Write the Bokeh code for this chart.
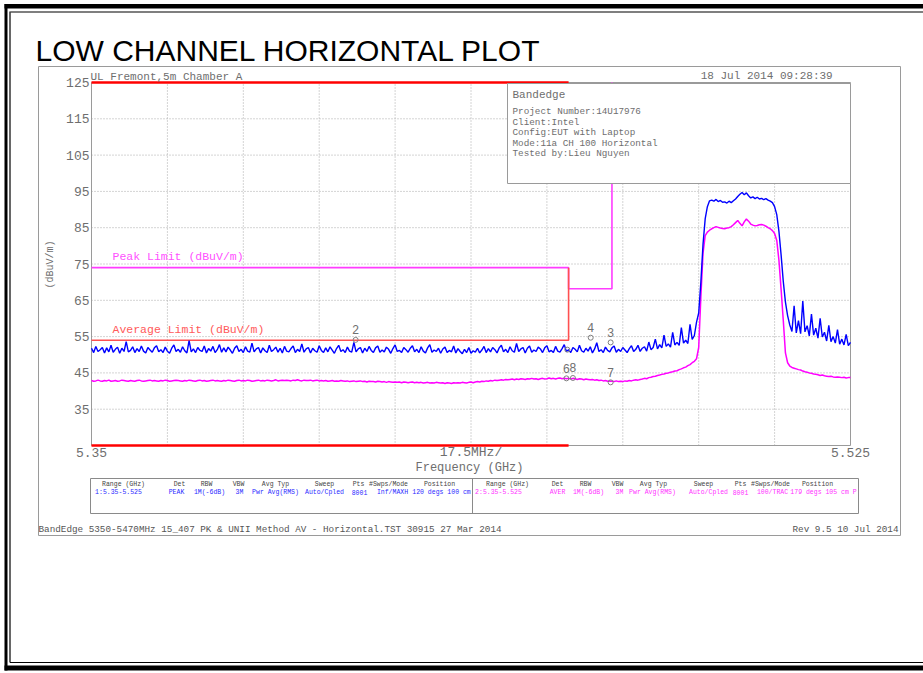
import math
import numpy as np
from bokeh.plotting import figure
from bokeh.models import Range1d
from bokeh.core.properties import value
from bokeh.embed import file_html
from bokeh.resources import INLINE

# ---------------- data ----------------
title_text = "LOW CHANNEL HORIZONTAL PLOT"
header_left = "UL Fremont,5m Chamber A"
header_right = "18 Jul 2014    09:28:39"
info_title = "Bandedge"
info_lines = ["Project Number:14U17976", "Client:Intel", "Config:EUT with Laptop",
              "Mode:11a CH 100 Horizontal", "Tested by:Lieu Nguyen"]
footer_left = "BandEdge 5350-5470MHz 15_407 PK & UNII Method AV - Horizontal.TST 30915 27 Mar 2014"
footer_right = "Rev 9.5 10 Jul 2014"
x_axis_title = "Frequency (GHz)"
y_axis_title = "(dBuV/m)"
peak_limit_name = "Peak Limit (dBuV/m)"
avg_limit_name = "Average Limit (dBuV/m)"

freq_start, freq_stop = 5.35, 5.525
level_bottom, level_top = 25, 125
y_ticks = [125, 115, 105, 95, 85, 75, 65, 55, 45, 35]
y_tick_labels = ["125", "115", "105", "95", "85", "75", "65", "55", "45", "35"]
x_tick_values = [5.35, 5.4375, 5.525]
x_tick_labels = ["5.35", "17.5MHz/", "5.525"]
x_grid = [5.3675, 5.385, 5.4025, 5.42, 5.4375, 5.455, 5.4725, 5.49, 5.5075]
y_grid = [35, 45, 55, 65, 75, 85, 95, 105, 115]

band_edge_f = [5.35, 5.46]
peak_limit_f = [5.35, 5.46, 5.46, 5.47, 5.47]
peak_limit_db = [74, 74, 68.2, 68.2, 125]
avg_limit_f = [5.35, 5.46, 5.46]
avg_limit_db = [54, 54, 74]

peak_trace = [
    51.8, 50.6, 52.3, 50.9, 51.4, 52.0, 50.5, 51.9, 50.8, 52.6,
    50.7, 51.5, 52.1, 50.4, 51.8, 50.9, 53.6, 50.8, 51.2, 52.2,
    50.6, 51.7, 50.9, 52.4, 51.0, 50.5, 52.0, 51.3, 50.7, 51.9,
    52.5, 50.8, 51.4, 50.6, 52.1, 51.0, 50.4, 51.8, 52.7, 50.9,
    51.5, 50.7, 52.2, 51.1, 50.5, 53.9, 50.8, 51.6, 50.6, 52.0,
    51.2, 50.9, 52.4, 50.5, 51.7, 51.0, 52.3, 50.6, 51.4, 52.8,
    50.7, 51.9, 50.8, 52.1, 51.3, 50.4, 51.8, 52.5, 50.9, 51.5,
    50.6, 52.2, 51.0, 50.7, 53.2, 50.8, 51.6, 52.0, 50.5, 51.9,
    51.1, 50.6, 52.6, 50.9, 51.4, 52.1, 50.7, 51.8, 50.5, 52.3,
    51.0, 50.8, 51.7, 52.4, 50.6, 51.5, 50.9, 53.0, 50.7, 51.6,
    52.0, 50.5, 51.8, 51.1, 50.7, 52.5, 51.2, 50.6, 51.9, 50.8,
    52.2, 51.3, 50.4, 51.7, 52.6, 50.9, 51.4, 50.6, 52.1, 51.0,
    50.7, 53.4, 50.8, 51.6, 52.0, 50.5, 51.8, 50.9, 52.3, 51.2,
    50.6, 51.9, 52.4, 50.7, 51.3, 50.8, 52.1, 51.5, 50.4, 51.7,
    52.7, 50.9, 51.2, 50.6, 52.0, 51.4, 50.7, 51.8, 52.5, 50.8,
    51.5, 50.6, 52.2, 51.0, 50.5, 51.9, 52.8, 50.7, 51.3, 50.9,
    51.8, 50.4, 51.6, 52.1, 50.6, 51.2, 50.8, 52.4, 50.5, 51.7,
    50.9, 50.3, 51.5, 50.6, 52.0, 50.4, 51.1, 50.7, 51.8, 50.5,
    51.3, 52.3, 50.6, 51.7, 50.8, 52.0, 51.4, 50.5, 51.9, 52.6,
    50.8, 51.5, 50.6, 52.2, 51.1, 50.7, 53.1, 50.9, 51.6, 52.0,
    50.5, 51.8, 52.4, 50.7, 51.3, 50.9, 52.1, 51.6, 50.6, 51.9,
    52.5, 50.8, 51.2, 50.6, 52.3, 51.0, 50.7, 51.7, 52.8, 50.9,
    51.4, 50.6, 52.0, 51.5, 50.8, 52.6, 51.1, 50.7, 51.8, 51.0,
    52.2, 50.5, 51.6, 53.3, 50.9, 51.4, 50.6, 52.1, 51.2, 50.8,
    51.9, 52.4, 50.7, 51.5, 50.9, 52.0, 51.3, 50.6, 51.7, 52.5,
    50.9,
    51.5, 52.6, 50.9, 51.8, 52.2, 51.0, 53.5, 51.4, 52.0, 54.3,
    51.6, 52.8, 51.9, 55.4, 52.3, 53.0, 52.1, 56.2, 52.7, 53.4,
    52.6, 57.5, 53.2, 54.0, 53.1, 58.4, 54.2, 55.3, 59.0,
    61.5, 70.0, 80.5, 87.5, 90.8, 92.4,
    92.6, 92.3, 92.8, 92.2, 92.5, 92.0, 92.1, 91.8, 92.3, 91.9,
    92.4, 92.9, 93.6, 94.2, 94.7, 94.1, 94.6, 93.8, 93.2, 93.5,
    93.0, 93.4, 92.9, 93.1, 92.7, 93.0, 92.6,
    92.3, 91.9, 90.8, 88.6, 84.0, 77.5, 70.2, 64.5, 60.8,
    58.2, 56.4, 63.5, 56.0, 59.4, 55.8, 64.8, 56.3, 58.0, 55.2,
    61.2, 55.4, 57.3, 54.6, 60.0, 54.9, 56.2, 53.8, 58.1, 53.6,
    55.0, 53.2, 56.9, 52.9, 54.3, 52.7, 55.6, 52.5, 53.4,
]

avg_trace = [
    42.9, 42.7, 42.8, 43.0, 42.8, 42.7, 42.9, 42.8, 43.0, 42.7,
    42.8, 42.9, 42.7, 42.8, 43.0, 42.9, 42.8, 42.7, 42.9, 42.8,
    42.7, 42.9, 43.0, 42.8, 42.7, 42.8, 42.9, 43.0, 42.8, 42.9,
    42.8, 42.7, 42.9, 42.8, 43.0, 42.9, 42.7, 42.8, 42.9, 43.0,
    42.9, 42.8, 42.7, 42.9, 42.8, 43.0, 42.9, 42.8, 42.7, 42.9,
    43.0, 42.8, 42.9, 42.7, 42.8, 42.9, 43.0, 42.8, 42.9, 42.8,
    42.7, 42.9, 42.8, 43.0, 42.9, 42.8, 42.7, 42.9, 43.0, 42.8,
    42.9, 42.8, 43.0, 42.9, 42.7, 42.8, 42.9, 43.0, 42.8, 42.9,
    42.8, 43.0, 42.9, 42.8, 42.9, 43.1, 42.8, 42.9, 43.0, 42.9,
    43.0, 42.9, 42.8, 43.0, 42.9, 43.1, 42.9, 42.8, 43.0, 42.9,
    42.9, 43.0, 42.8, 42.9, 43.0, 42.8, 42.9, 42.8, 42.9, 42.7,
    42.8, 42.9, 42.7, 42.8, 42.7, 42.9, 42.8, 42.7, 42.8, 42.6,
    42.7, 42.8, 42.6, 42.7, 42.8, 42.6, 42.7, 42.5, 42.7, 42.6,
    42.6, 42.5, 42.7, 42.6, 42.5, 42.6, 42.4, 42.6, 42.5, 42.4,
    42.5, 42.4, 42.5, 42.3, 42.5, 42.4, 42.3, 42.4, 42.5, 42.3,
    42.4, 42.3, 42.4, 42.2, 42.3, 42.4, 42.2, 42.3, 42.2, 42.4,
    42.3, 42.2, 42.3, 42.1, 42.3, 42.2, 42.1, 42.3, 42.2, 42.3,
    42.2, 42.4, 42.3, 42.2, 42.4, 42.5, 42.3, 42.5, 42.6, 42.5,
    42.7, 42.6, 42.8, 42.7, 42.9, 42.8, 43.0, 42.9, 43.0, 43.1,
    43.0, 43.2, 43.1, 43.2, 43.3, 43.1, 43.3, 43.2, 43.4, 43.3,
    43.2, 43.4, 43.3, 43.5, 43.3, 43.4, 43.2, 43.4, 43.5, 43.3,
    43.4, 43.6, 43.4, 43.5, 43.3, 43.5, 43.6, 43.4, 43.5, 43.4,
    43.5, 43.3, 43.5, 43.4, 43.2, 43.4, 43.3, 43.1, 43.3, 43.2,
    43.1, 43.2, 43.0, 43.1, 42.9, 43.0, 42.8, 42.9, 42.7, 42.8,
    42.7, 42.6, 42.8, 42.6, 42.7, 42.6, 42.8, 42.7, 42.9, 42.8,
    43.0, 43.1, 43.0, 43.2, 43.3, 43.5, 43.4, 43.7, 43.8, 44.0,
    44.1, 44.3, 44.4, 44.6, 44.7, 44.9, 45.0, 45.2, 45.3, 45.5,
    45.6, 45.9, 46.1, 46.4, 46.6, 47.0, 47.3, 47.8, 48.2, 48.9,
    52.0, 66.0, 78.0, 82.8, 83.8, 84.3,
    84.7, 85.0, 85.3, 85.1, 84.9, 84.8, 84.7, 84.9, 85.0, 85.3,
    85.8, 86.4, 87.0, 86.2, 85.5, 86.6, 87.4, 86.8, 86.0, 85.7,
    85.5, 85.6, 85.8, 85.9, 85.7, 85.4, 85.0,
    84.7, 84.2, 83.4, 81.5, 76.0, 68.0, 59.5, 50.5, 47.8, 46.9, 46.5, 46.3,
    46.1, 45.9, 45.8, 45.5, 45.3, 45.2, 45.0, 44.9, 44.7, 44.6,
    44.5, 44.3, 44.4, 44.2, 44.1, 44.0, 44.1, 43.9, 43.8, 43.9,
    43.8, 43.7, 43.8, 43.6, 43.7, 43.7,
]

marker_labels = ["", "2", "3", "4", "6", "8", "7"]
marker_freq = [5.4597, 5.4109, 5.4697, 5.4651, 5.4595, 5.4610, 5.4697]
marker_level = [51.4, 54.1, 53.4, 54.7, 43.5, 43.6, 42.4]

table_headers = ["Range (GHz)", "Det", "RBW", "VBW", "Avg Typ", "Sweep", "Pts", "#Swps/Mode", "Position"]
table_peak = ["1:5.35-5.525", "PEAK", "1M(-6dB)", "3M", "Pwr Avg(RMS)", "Auto/Cpled", "8001", "Inf/MAXH", "120 degs 100 cm"]
table_avg = ["2:5.35-5.525", "AVER", "1M(-6dB)", "3M", "Pwr Avg(RMS)", "Auto/Cpled", "8001", "100/TRAC", "179 degs 105 cm P"]

# ---------------- layout (page pixels) ----------------
X0, X1, Y0, Y1 = 0, 923, 0, 673
PL, PR, PT, PB = 91, 850, 82, 445
gx = (freq_stop - freq_start) / (PR - PL)
gy = (level_top - level_bottom) / (PB - PT)

p = figure(width=X1 - X0, height=Y1 - Y0, x_range=Range1d(X0, X1), y_range=Range1d(Y1, Y0),
           output_backend="svg", toolbar_location=None, tools="", min_border=0,
           x_axis_location=None, y_axis_location=None, outline_line_color=None,
           background_fill_color="white", border_fill_color="white")
p.grid.grid_line_color = None
p.extra_x_ranges = {"f": Range1d(freq_start - (PL - X0) * gx, freq_stop + (X1 - PR) * gx)}
p.extra_y_ranges = {"db": Range1d(level_bottom - (Y1 - PB) * gy, level_top + (PT - Y0) * gy)}
D = dict(x_range_name="f", y_range_name="db")

mono = value("Liberation Mono")
GREY = "#6e6e6e"

# page frame (thick outer + thin inner)
p.quad(left=[4, 4, 4], right=[923, 7, 923], top=[3.5, 3.5, 665], bottom=[8, 670, 670],
       fill_color="black", line_color=None)
p.segment(x0=[10, 9.5, 9.5], y0=[11.5, 11, 662], x1=[923, 9.5, 923], y1=[11.5, 662, 662],
          line_color="black", line_width=1.2)

# title
p.text(x=[35], y=[49.5], text=[title_text], text_font=value("Liberation Sans"), text_font_size="30px",
       text_color="black", text_baseline="middle", text_align="left")

# chart image border
p.quad(left=[38], right=[900], top=[66], bottom=[535], fill_color=None, line_color="#9a9a9a", line_width=1)

# grid
p.segment(x0=x_grid, y0=[level_bottom] * len(x_grid), x1=x_grid, y1=[level_top] * len(x_grid),
          line_color="#a8a8a8", line_dash="1 2", line_width=1, **D)
p.segment(x0=[freq_start] * len(y_grid), y0=y_grid, x1=[freq_stop] * len(y_grid), y1=y_grid,
          line_color="#a8a8a8", line_dash="1 2", line_width=1, **D)
p.quad(left=[freq_start], right=[freq_stop], bottom=[level_bottom], top=[level_top],
       fill_color=None, line_color="#9a9a9a", line_width=1, **D)

# limits
p.line(x=peak_limit_f, y=peak_limit_db, line_color="#ff3cff", line_width=1.6, **D)
p.line(x=avg_limit_f, y=avg_limit_db, line_color="#ff5050", line_width=1.6, **D)

# traces
freq = np.linspace(freq_start, freq_stop, len(peak_trace))
freq_avg = np.linspace(freq_start, freq_stop, len(avg_trace))
p.line(x=freq_avg, y=avg_trace, line_color="#ff00ff", line_width=1.5, **D)
p.line(x=freq, y=peak_trace, line_color="#0000ff", line_width=1.4, **D)

# band edge lines top/bottom
p.segment(x0=[band_edge_f[0]] * 2, y0=[level_top, level_bottom], x1=[band_edge_f[1]] * 2,
          y1=[level_top, level_bottom], line_color="#ff0000", line_width=2.5, **D)

# info box
p.quad(left=[507], right=[850], top=[83], bottom=[183], fill_color="white", line_color="#9a9a9a", line_width=1)
p.text(x=[512], y=[94], text=[info_title], text_font=mono, text_font_size="11px", text_color=GREY,
       text_baseline="middle", text_align="left")
p.text(x=[512] * len(info_lines), y=[111, 121.5, 132, 142.5, 153], text=info_lines, text_font=mono,
       text_font_size="9.3px", text_color=GREY, text_baseline="middle", text_align="left")

# headers
p.text(x=[90], y=[76.5], text=[header_left], text_font=mono, text_font_size="11px", text_color=GREY,
       text_baseline="middle", text_align="left")
p.text(x=[852], y=[75.5], text=[header_right], text_font=mono, text_font_size="11px", text_color=GREY,
       text_baseline="middle", text_align="right")

# limit names
p.text(x=[112], y=[256], text=[peak_limit_name], text_font=mono, text_font_size="11.5px",
       text_color="#ff50ff", text_baseline="middle", text_align="left")
p.text(x=[112], y=[329], text=[avg_limit_name], text_font=mono, text_font_size="11.5px",
       text_color="#ff5a5a", text_baseline="middle", text_align="left")

# y tick labels
p.text(x=[89] * len(y_ticks), y=y_ticks, text=y_tick_labels, text_font=mono, text_font_size="13px",
       text_color=GREY, text_baseline="middle", text_align="right", y_range_name="db")
# x tick labels
p.text(x=x_tick_values, y=[452] * len(x_tick_values), text=x_tick_labels, text_font=mono,
       text_font_size="13px", text_color=GREY, text_baseline="middle", text_align="center", x_range_name="f")
p.text(x=[469], y=[467], text=[x_axis_title], text_font=mono, text_font_size="12px", text_color=GREY,
       text_baseline="middle", text_align="center")
p.text(x=[50], y=[264], text=[y_axis_title], text_font=mono, text_font_size="10px", text_color=GREY,
       text_baseline="middle", text_align="center", angle=math.pi / 2)

# markers
p.scatter(x=marker_freq, y=marker_level, marker="circle", size=5, line_color="#808080",
          fill_color=None, line_width=1, **D)
p.text(x=marker_freq, y=[v + 2.8 for v in marker_level], text=marker_labels, text_font=mono,
       text_font_size="12px", text_color="#707070", text_baseline="middle", text_align="center", **D)

# parameter table
p.quad(left=[90], right=[858], top=[478], bottom=[513], fill_color=None, line_color="#8a8a8a", line_width=1)
p.segment(x0=[472], y0=[478], x1=[472], y1=[513], line_color="#8a8a8a", line_width=1)
hx_left = [123, 179, 206, 238, 275, 324, 358, 388, 439]
vx_left = [118, 176, 209, 239, 275, 324, 359, 392, 441]
hx_right = [507, 557, 585, 617, 653, 703, 740, 770, 817]
vx_right = [498, 557, 588, 619, 652, 708, 740, 772, 823]
for hx, vx, vals, col in [(hx_left, vx_left, table_peak, "#2a2aff"), (hx_right, vx_right, table_avg, "#ff30ff")]:
    p.text(x=hx, y=[484] * len(hx), text=table_headers, text_font=mono, text_font_size="6.5px",
           text_color="#444444", text_baseline="middle", text_align="center")
    p.text(x=vx, y=[492] * len(vx), text=vals, text_font=mono, text_font_size="6.5px",
           text_color=col, text_baseline="middle", text_align="center")

# footer
p.text(x=[38], y=[528.5], text=[footer_left], text_font=mono, text_font_size="9.3px", text_color="#555555",
       text_baseline="middle", text_align="left")
p.text(x=[898], y=[528.5], text=[footer_right], text_font=mono, text_font_size="9.3px", text_color="#555555",
       text_baseline="middle", text_align="right")

open("out.html", "w").write(file_html(p, INLINE))
